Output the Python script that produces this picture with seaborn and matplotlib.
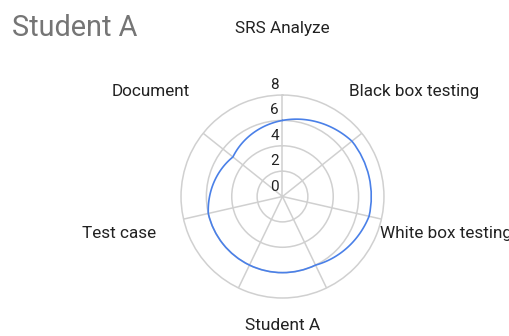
import numpy as np
import pandas as pd
import matplotlib
matplotlib.use("Agg")
import matplotlib.pyplot as plt
import matplotlib.transforms as mtransforms
import seaborn as sns

# ---- data ----
categories = ["SRS Analyze", "Black box testing", "White box testing", "", "", "Test case", "Document"]
values = [6, 7, 7, 6, 6, 6, 5]
series_name = "Student A"
r_ticks = [0, 2, 4, 6, 8]
r_tick_labels = ["0", "2", "4", "6", "8"]
chart_title = "Student A"

sns.set_theme(style="white")
plt.rcParams["font.family"] = ["Roboto", "DejaVu Sans"]

fig = plt.figure(figsize=(5.1, 3.36), dpi=100)
ax = fig.add_axes([0.3549, 0.1131, 0.398, 0.604], projection="polar")
ax.set_theta_zero_location("N")
ax.set_theta_direction(-1)

n = len(categories)
angles = np.linspace(0, 2 * np.pi, n, endpoint=False)
df = pd.DataFrame({
    "angle": np.append(angles, 2 * np.pi),
    "value": values + values[:1],
})
sns.lineplot(data=df, x="angle", y="value", sort=False, estimator=None,
             ax=ax, color="#4a80e8", linewidth=1.2, legend=False)
line = ax.lines[0]
line.get_path()._interpolation_steps = 60

ax.set_ylim(0, r_ticks[-1])
ax.set_yticks(r_ticks[1:-1])
ax.set_yticklabels([])
ax.set_xticks(angles)
ax.set_xticklabels([])
ax.set_xlabel("")
ax.set_ylabel("")
ax.grid(True, color="#d0d0d0", linewidth=1.1)
ax.spines["polar"].set_color("#d0d0d0")
ax.spines["polar"].set_linewidth(1.1)
ax.set_facecolor("white")

# radial value labels along the top spoke
off = mtransforms.offset_copy(ax.transData, fig=fig, x=-8, y=3, units="dots")
for r, lab in zip(r_ticks, r_tick_labels):
    ax.text(0, r, lab, transform=off, ha="center", va="bottom",
            fontsize=11, color="#222222", clip_on=False)

# category labels
for a, cat in zip(angles, categories):
    ax.text(a, 13.25, cat, ha="center", va="center", fontsize=12.3,
            color="#222222", clip_on=False)

fig.text(12 / 510, 1 - 28 / 336, chart_title, ha="left", va="center",
         fontsize=20.8, color="#757575")
fig.text(283 / 510, 1 - 326 / 336, series_name, ha="center", va="center",
         fontsize=12.5, color="#222222")

fig.savefig("out.png", dpi=100, facecolor="white")
